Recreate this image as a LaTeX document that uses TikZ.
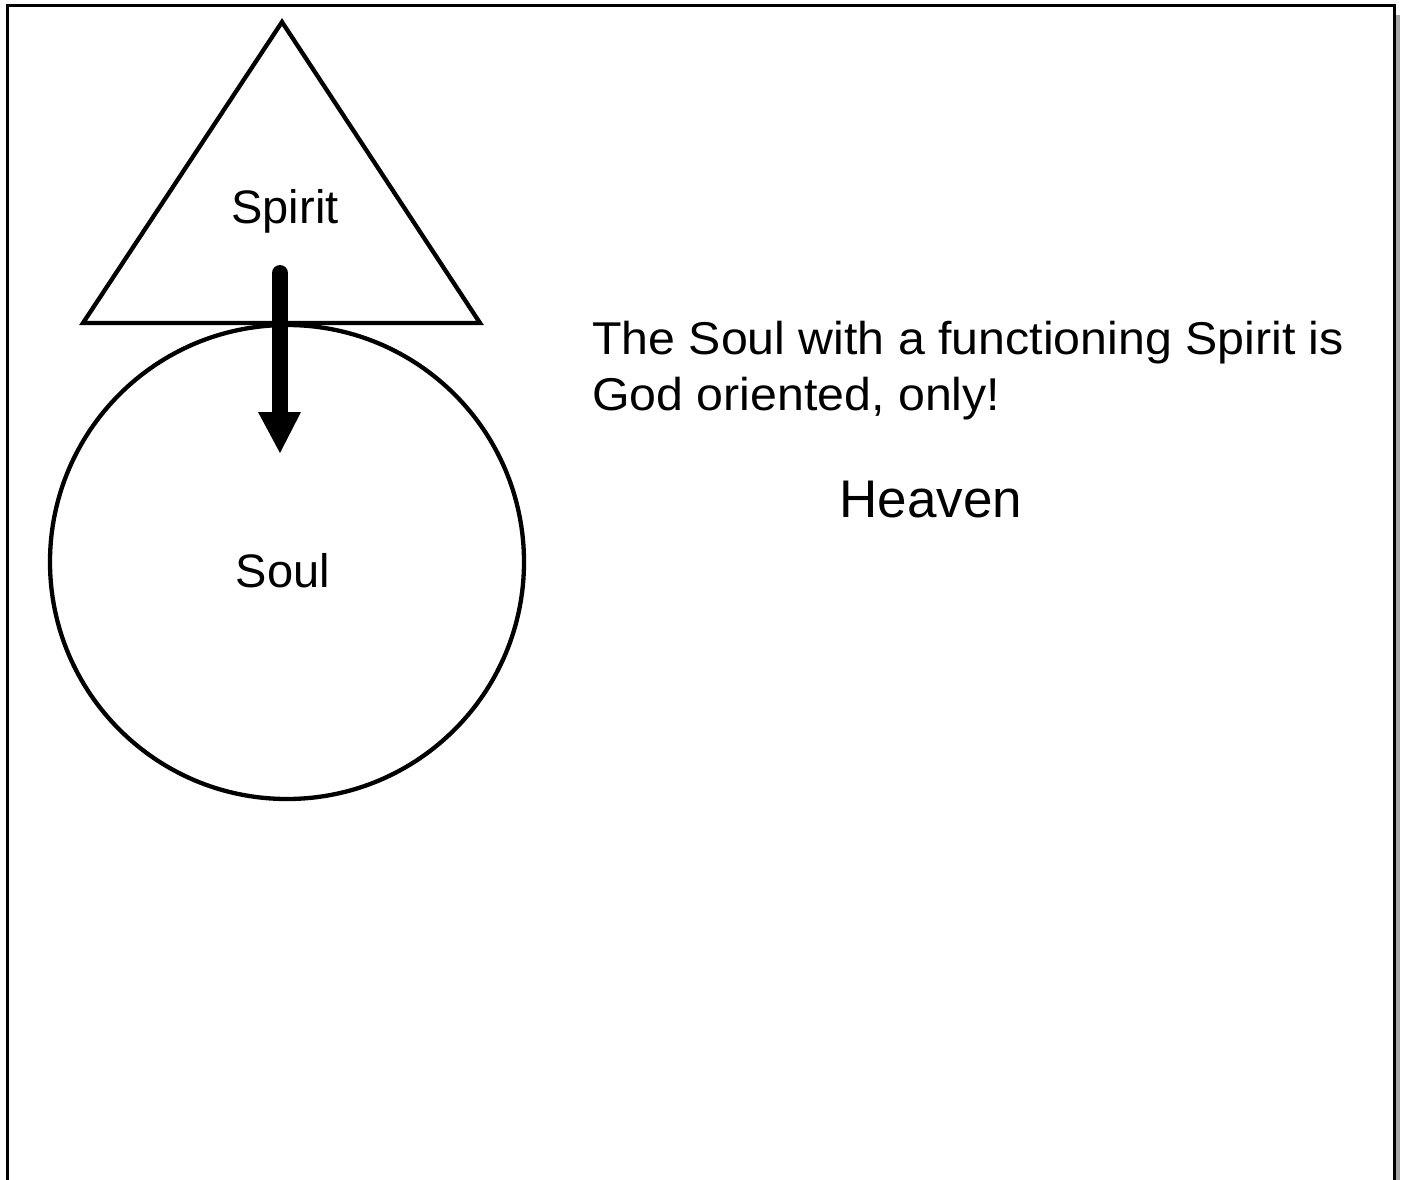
\documentclass[tikz,border=0pt]{standalone}
\usepackage{fontspec}
\setmainfont{Liberation Sans}
\begin{document}
\begin{tikzpicture}[x=1pt,y=-1pt,
  outline/.style={draw=black,line width=4.3pt,line join=miter},
  lbl/.style={inner sep=0pt,font=\fontsize{47}{55}\selectfont},
  para/.style={inner sep=0pt,anchor=base west,font=\fontsize{46}{56}\selectfont},
]
\useasboundingbox (0,0) rectangle (1403,1180);
\clip (0,0) rectangle (1403,1180);
% page frame with shadow
\fill[gray!70] (1395,15) rectangle (1400,1200);
\draw[line width=3pt] (7,6) rectangle (1394,1200);
% shapes
\draw[outline] (282,22) -- (480,323) -- (83,323) -- cycle;
\node[outline,circle,minimum size=474pt,inner sep=0pt] (soul) at (287,562) {};
% arrow
\coordinate (a1) at (280,273);
\coordinate (a2) at (280,414);
\coordinate (tip) at (280,453);
\draw[line width=16pt,line cap=round] (a1) -- (a2);
\fill (258,412) -- (301,412) -- (tip) -- cycle;
% labels
\node[lbl,anchor=base] (spirit) at (285,223) {Spirit};
\node[lbl,anchor=base] (soullbl) at (283,587) {Soul};
\node[para] (l1) at (592,354) {\scalebox{1.05}[1]{The Soul with a functioning Spirit is}};
\node[para] (l2) at (592,410) {\scalebox{1.05}[1]{God oriented, only!}};
\node[inner sep=0pt,anchor=base,font=\fontsize{53}{60}\selectfont] (heaven) at (931,517) {Heaven};
\end{tikzpicture}
\end{document}
